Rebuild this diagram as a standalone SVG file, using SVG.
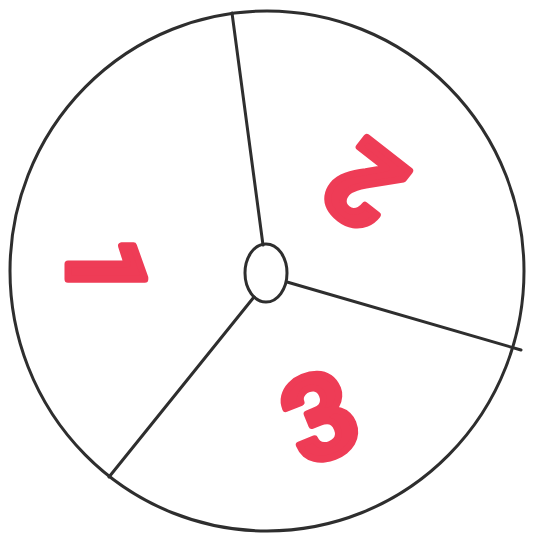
<svg xmlns="http://www.w3.org/2000/svg" width="534" height="536" viewBox="0 0 534 536">
<style>
.ln{fill:none;stroke:#2e2e2e;stroke-width:3;stroke-linecap:round}
.num{font-family:Roboto,'Liberation Sans',sans-serif;font-weight:bold;fill:#ee3c56;stroke:#ee3c56;stroke-width:7;stroke-linejoin:round;text-anchor:middle}
</style>
<rect width="534" height="536" fill="#ffffff"/>
<g id="wheel">
<ellipse class="ln" cx="267" cy="271" rx="257" ry="260"/>
</g>
<g id="connectors">
<line class="ln" x1="232" y1="13" x2="263" y2="245"/>
<line class="ln" x1="287" y1="282" x2="521" y2="350"/>
<line class="ln" x1="254" y1="297" x2="109" y2="477"/>
</g>
<g id="hub">
<ellipse class="ln" cx="266" cy="273" rx="21" ry="29"/>
</g>
<g id="label1">
<text class="num" font-size="108" transform="translate(107,268) rotate(90)" y="39" fill="#e6244c" stroke="#e6244c" stroke-width="10">1</text>
</g>
<g id="label2">
<text class="num" font-size="112" transform="translate(364,186) rotate(218)" y="40">2</text>
</g>
<g id="label3">
<text class="num" font-size="117" transform="translate(320,416) rotate(-22)" y="42">3</text>
</g>
</svg>
